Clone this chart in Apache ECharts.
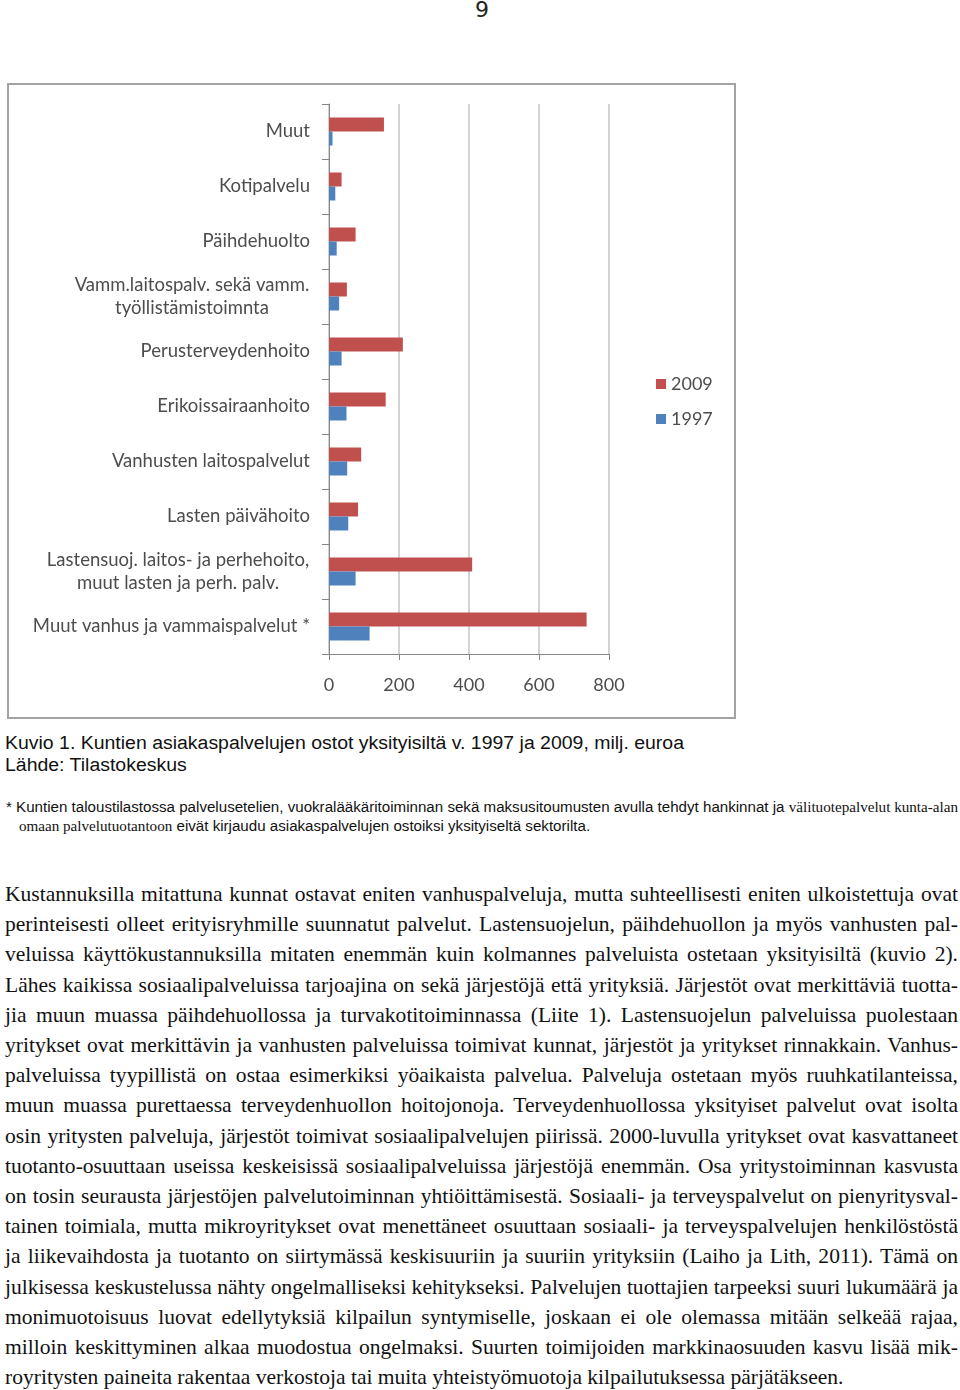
<!DOCTYPE html>
<html>
<head>
<meta charset="utf-8">
<script src="https://cdn.jsdelivr.net/npm/echarts@6/dist/echarts.min.js"></script>
<style>
  body { margin: 0; width: 960px; height: 1390px; position: relative; background: #fff; overflow: hidden; color: #111; }
  .abs { position: absolute; white-space: nowrap; transform-origin: 0 0; }
  #pagenum { left: 2px; top: -2px; width: 960px; text-align: center; font: 22px "DejaVu Sans"; line-height: 24px; color: #222; }
  #chart { position: absolute; left: 7px; top: 83px; width: 729px; height: 636px; border: 2px solid #a3a3a3; box-sizing: border-box; }
  #caption { left: 5px; top: 732px; font: 18px "Liberation Sans"; line-height: 22px; }
  #note { left: 6px; top: 798px; font: 14px "Liberation Sans"; line-height: 18px; }
  #note .serif { font-family: "Liberation Serif"; font-size: 14px; }
  #note .l2 { padding-left: 12px; }
  #body { left: 5px; top: 879px; font: 22px "Liberation Serif"; line-height: 30.2px; }
  #body div { text-align: justify; text-align-last: justify; }
  #body div.last { text-align-last: left; }
</style>
</head>
<body>
<div id="pagenum" class="abs">9</div>
<div id="chart"></div>
<div id="caption" class="abs">
  <div>Kuvio 1. Kuntien asiakaspalvelujen ostot yksityisiltä v. 1997 ja 2009, milj. euroa</div>
  <div>Lähde: Tilastokeskus</div>
</div>
<div id="note" class="abs">
  <div class="l1">* Kuntien taloustilastossa palvelusetelien, vuokralääkäritoiminnan sekä maksusitoumusten avulla tehdyt hankinnat ja <span class="serif">välituotepalvelut kunta-alan</span></div>
  <div class="l2"><span class="serif">omaan palvelutuotantoon</span> eivät kirjaudu asiakaspalvelujen ostoiksi yksityiseltä sektorilta.</div>
</div>
<div id="body" class="abs"></div>

<script>
// chart data (top to bottom)
const categories = [
  'Muut',
  'Kotipalvelu',
  'Päihdehuolto',
  'Vamm.laitospalv. sekä vamm.\ntyöllistämistoimnta',
  'Perusterveydenhoito',
  'Erikoissairaanhoito',
  'Vanhusten laitospalvelut',
  'Lasten päivähoito',
  'Lastensuoj. laitos- ja perhehoito,\nmuut lasten ja perh. palv.',
  'Muut vanhus ja vammaispalvelut *'
];
const values2009 = [157, 36, 76, 51, 211, 162, 92, 83, 409, 736];
const values1997 = [10, 18, 22, 29, 36, 50, 52, 55, 76, 116];
const xTicks = [0, 200, 400, 600, 800];

const bodyLines = [
  'Kustannuksilla mitattuna kunnat ostavat eniten vanhuspalveluja, mutta suhteellisesti eniten ulkoistettuja ovat',
  'perinteisesti olleet erityisryhmille suunnatut palvelut. Lastensuojelun, päihdehuollon ja myös vanhusten pal-',
  'veluissa käyttökustannuksilla mitaten enemmän kuin kolmannes palveluista ostetaan yksityisiltä (kuvio 2).',
  'Lähes kaikissa sosiaalipalveluissa tarjoajina on sekä järjestöjä että yrityksiä. Järjestöt ovat merkittäviä tuotta-',
  'jia muun muassa päihdehuollossa ja turvakotitoiminnassa (Liite 1). Lastensuojelun palveluissa puolestaan',
  'yritykset ovat merkittävin ja vanhusten palveluissa toimivat kunnat, järjestöt ja yritykset rinnakkain. Vanhus-',
  'palveluissa tyypillistä on ostaa esimerkiksi yöaikaista palvelua. Palveluja ostetaan myös ruuhkatilanteissa,',
  'muun muassa purettaessa terveydenhuollon hoitojonoja. Terveydenhuollossa yksityiset palvelut ovat isolta',
  'osin yritysten palveluja, järjestöt toimivat sosiaalipalvelujen piirissä. 2000-luvulla yritykset ovat kasvattaneet',
  'tuotanto-osuuttaan useissa keskeisissä sosiaalipalveluissa järjestöjä enemmän. Osa yritystoiminnan kasvusta',
  'on tosin seurausta järjestöjen palvelutoiminnan yhtiöittämisestä. Sosiaali- ja terveyspalvelut on pienyritysval-',
  'tainen toimiala, mutta mikroyritykset ovat menettäneet osuuttaan sosiaali- ja terveyspalvelujen henkilöstöstä',
  'ja liikevaihdosta ja tuotanto on siirtymässä keskisuuriin ja suuriin yrityksiin (Laiho ja Lith, 2011). Tämä on',
  'julkisessa keskustelussa nähty ongelmalliseksi kehitykseksi. Palvelujen tuottajien tarpeeksi suuri lukumäärä ja',
  'monimuotoisuus luovat edellytyksiä kilpailun syntymiselle, joskaan ei ole olemassa mitään selkeää rajaa,',
  'milloin keskittyminen alkaa muodostua ongelmaksi. Suurten toimijoiden markkinaosuuden kasvu lisää mik-',
  'royritysten paineita rakentaa verkostoja tai muita yhteistyömuotoja kilpailutuksessa pärjätäkseen.'
];

// squeeze a block horizontally so its first line has the given width
function fitBlock(el, width) {
  const first = el.firstElementChild;
  first.style.display = 'inline-block';
  const nat = first.getBoundingClientRect().width;
  first.style.display = '';
  el.style.transform = 'scaleX(' + (width / nat) + ')';
}
fitBlock(document.getElementById('caption'), 679);
fitBlock(document.getElementById('note'), 952);

// body text: one shared squeeze, then justify each line
const bodyEl = document.getElementById('body');
const bodyW = 953;
const spans = bodyLines.map((t, i) => {
  const d = document.createElement('div');
  if (i === bodyLines.length - 1) d.className = 'last';
  const s = document.createElement('span');
  s.textContent = t;
  d.appendChild(s);
  bodyEl.appendChild(d);
  return s;
});
let scale = 1;
spans.forEach(s => { scale = Math.min(scale, bodyW / s.getBoundingClientRect().width); });
scale *= 0.998;
bodyEl.style.whiteSpace = 'normal';
bodyEl.style.width = (bodyW / scale) + 'px';
bodyEl.style.transform = 'scaleX(' + scale + ')';

// y axis labels: block right aligned, multi-line labels centred inside
const labelFont = 18.5, labelFamily = 'Lato', labelColor = '#4d4d4d';
const ctx = document.createElement('canvas').getContext('2d');
ctx.font = labelFont + 'px ' + labelFamily;
const rich = {};
categories.forEach((c, i) => {
  if (c.indexOf('\n') >= 0) {
    const w = Math.max.apply(null, c.split('\n').map(l => ctx.measureText(l).width));
    rich['m' + i] = { width: Math.ceil(w) + 1, align: 'center', fontSize: labelFont, fontFamily: labelFamily, color: labelColor, lineHeight: 23 };
  }
});

const chart = echarts.init(document.getElementById('chart'));
chart.setOption({
  animation: false,
  backgroundColor: '#fff',
  grid: { left: 320, right: 125, top: 19, bottom: 63, outerBoundsMode: 'none' },
  legend: {
    orient: 'vertical',
    left: 642,
    top: 284,
    icon: 'rect',
    itemWidth: 10,
    itemHeight: 10,
    itemGap: 15,
    data: ['2009', '1997'],
    textStyle: { fontSize: 18, fontFamily: labelFamily, color: labelColor, lineHeight: 20 }
  },
  xAxis: {
    type: 'value',
    min: xTicks[0],
    max: xTicks[xTicks.length - 1],
    interval: xTicks[1] - xTicks[0],
    axisLine: { show: true, lineStyle: { color: '#868686' } },
    axisTick: { show: true, length: 6, lineStyle: { color: '#868686' } },
    splitLine: { show: true, lineStyle: { color: '#c4c4c4', width: 1.5 } },
    axisLabel: { color: labelColor, fontSize: 18, fontFamily: labelFamily, margin: 22 }
  },
  yAxis: {
    type: 'category',
    inverse: true,
    data: categories,
    axisLine: { show: true, lineStyle: { color: '#868686' } },
    axisTick: { show: true, length: 7, lineStyle: { color: '#868686' } },
    axisLabel: {
      color: labelColor,
      fontSize: labelFont,
      fontFamily: labelFamily,
      lineHeight: 23,
      margin: 19,
      rich: rich,
      formatter: (v, i) => rich['m' + i] ? v.split('\n').map(l => '{m' + i + '|' + l + '}').join('\n') : v
    }
  },
  series: [
    { name: '2009', type: 'bar', data: values2009, barWidth: 14, barGap: '0%', itemStyle: { color: '#c0504d' } },
    { name: '1997', type: 'bar', data: values1997, barWidth: 14, barGap: '0%', itemStyle: { color: '#4f81bd' } }
  ]
});
</script>
</body>
</html>
